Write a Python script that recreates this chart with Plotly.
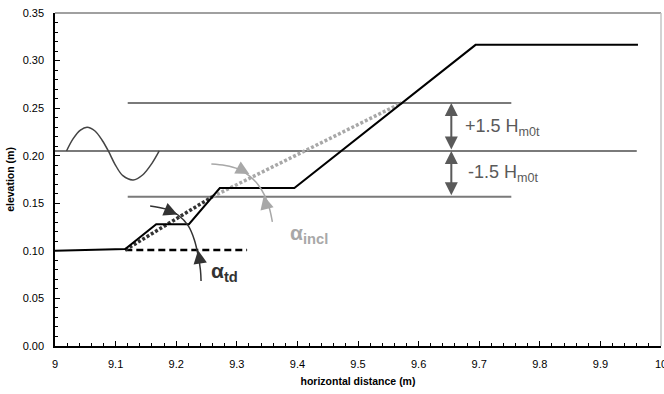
import plotly.graph_objects as go

# ---- data ----
profile_x = [9.0, 9.116, 9.167, 9.221, 9.272, 9.395, 9.694, 9.962]
profile_y = [0.100, 0.102, 0.128, 0.128, 0.166, 0.166, 0.3165, 0.3165]

wave_x = [9.019, 9.030, 9.042, 9.053, 9.066, 9.078, 9.088, 9.099, 9.112, 9.129, 9.145, 9.160, 9.172]
wave_y = [0.205, 0.218, 0.227, 0.230, 0.226, 0.216, 0.205, 0.191, 0.179, 0.1745, 0.180, 0.192, 0.205]

swl = 0.205
swl_x = [9.0, 9.96]
upper_level = 0.2555
lower_level = 0.157
level_x = [9.120, 9.753]

toe_x, toe_y = 9.116, 0.101
ref_x = [9.116, 9.317]          # horizontal reference (dashed)
td_x = [9.116, 9.260]           # toe -> SWL-1.5Hm0t
td_y = [0.101, 0.157]
incl_x = [9.260, 9.572]         # SWL-1.5Hm0t -> SWL+1.5Hm0t
incl_y = [0.157, 0.2555]
arrow_x = 9.654

arc_td_x = [9.157, 9.182, 9.203, 9.220, 9.230, 9.236, 9.240, 9.241]
arc_td_y = [0.1472, 0.1441, 0.1377, 0.1262, 0.1115, 0.0957, 0.0799, 0.0683]
arc_incl_x = [9.258, 9.281, 9.3025, 9.3207, 9.3355, 9.3455, 9.3537, 9.3587]
arc_incl_y = [0.1914, 0.1898, 0.1861, 0.1788, 0.1693, 0.1588, 0.1451, 0.1304]

x_ticks = [9.0, 9.1, 9.2, 9.3, 9.4, 9.5, 9.6, 9.7, 9.8, 9.9, 10.0]
x_tick_text = ["9", "9.1", "9.2", "9.3", "9.4", "9.5", "9.6", "9.7", "9.8", "9.9", "10"]
y_ticks = [0.00, 0.05, 0.10, 0.15, 0.20, 0.25, 0.30, 0.35]

DARK = "#333333"
MID = "#5a5a5a"
LEVEL = "#7a7a7a"
LIGHT = "#a8a8a8"
FONT = "Liberation Sans Narrow, Arial Narrow, Liberation Sans, Arial, sans-serif"

fig = go.Figure()

def line(x, y, color, width, dash="solid", shape="linear"):
    fig.add_trace(go.Scatter(x=x, y=y, mode="lines",
                             line=dict(color=color, width=width, dash=dash, shape=shape),
                             hoverinfo="skip", showlegend=False))

# water levels
line(swl_x, [swl, swl], LEVEL, 2)
line(level_x, [upper_level, upper_level], LEVEL, 2)
line(level_x, [lower_level, lower_level], LEVEL, 2)
# wave
line(wave_x, wave_y, "#444444", 1.5, shape="spline")
# slope lines
line(ref_x, [toe_y, toe_y], "black", 2.5, dash="7px,4px")
line(incl_x, incl_y, LIGHT, 3.5, dash="3px,2px")
line(td_x, td_y, DARK, 3.5, dash="3px,2px")
# profile
line(profile_x, profile_y, "black", 2)
# arcs
line(arc_td_x, arc_td_y, DARK, 1.5, shape="spline")
line(arc_incl_x, arc_incl_y, LIGHT, 1.5, shape="spline")

ann = []
# arc arrowheads (tips with short pixel tail along the arc tangent)
for (tx, ty, axp, ayp, col) in [
    (arc_td_x[2] - 0.001, arc_td_y[2] + 0.0005, -12, -5, DARK),
    (arc_td_x[5], arc_td_y[5] + 0.005, 2, 12, DARK),
    (arc_incl_x[3], arc_incl_y[3] + 0.002, -11, -6, LIGHT),
    (arc_incl_x[5] - 0.001, arc_incl_y[5] - 0.001, 3, 12, LIGHT),
]:
    ann.append(dict(x=tx, y=ty, xref="x", yref="y", ax=axp, ay=ayp, text="",
                    showarrow=True, arrowhead=2, arrowsize=1.8, arrowwidth=1.5,
                    arrowcolor=col))
# double arrows
for (y0, y1) in [(upper_level, swl), (swl, lower_level)]:
    ann.append(dict(x=arrow_x, y=y0, ax=arrow_x, ay=y1, xref="x", yref="y",
                    axref="x", ayref="y", text="", showarrow=True,
                    arrowhead=2, startarrowhead=2, arrowside="end+start",
                    arrowsize=1.3, startarrowsize=1.3, arrowwidth=2, arrowcolor=MID))
# labels
ann.append(dict(x=9.673, y=0.2295, xref="x", yref="y", xanchor="left", yanchor="middle",
                text="+1.5 H<sub>m0t</sub>", showarrow=False,
                font=dict(family="Liberation Sans, Arial, sans-serif", size=18, color=MID)))
ann.append(dict(x=9.678, y=0.181, xref="x", yref="y", xanchor="left", yanchor="middle",
                text="-1.5 H<sub>m0t</sub>", showarrow=False,
                font=dict(family="Liberation Sans, Arial, sans-serif", size=18, color=MID)))
ann.append(dict(x=9.385, y=0.118, xref="x", yref="y", xanchor="left", yanchor="middle",
                text="<b>α<sub>incl</sub></b>", showarrow=False,
                font=dict(family="Liberation Sans, Arial, sans-serif", size=21, color=LIGHT)))
ann.append(dict(x=9.254, y=0.078, xref="x", yref="y", xanchor="left", yanchor="middle",
                text="<b>α<sub>td</sub></b>", showarrow=False,
                font=dict(family="Liberation Sans, Arial, sans-serif", size=21, color=DARK)))

shapes = [
    dict(type="line", xref="paper", yref="paper", x0=0, x1=1, y0=1, y1=1,
         line=dict(color="#808080", width=1.5)),
    dict(type="line", xref="paper", yref="paper", x0=1, x1=1, y0=0, y1=1,
         line=dict(color="#c4c4c4", width=1.5)),
]

fig.update_layout(
    width=664, height=394,
    margin=dict(l=55, r=3, t=13, b=48),
    paper_bgcolor="white", plot_bgcolor="white",
    font=dict(family=FONT, size=11, color="black"),
    annotations=ann, shapes=shapes,
    xaxis=dict(range=[9.0, 10.0], tickvals=x_ticks, ticktext=x_tick_text,
               showgrid=False, zeroline=False, showline=True, linecolor="black",
               linewidth=1.5, ticks="inside", ticklen=5, tickcolor="black",
               minor=dict(dtick=0.02, ticks="inside", ticklen=3, tickcolor="black", showgrid=False),
               tickfont=dict(size=11), ticklabelstandoff=7, ticklabeloverflow="allow",
               automargin=False,
               title=dict(text="<b>horizontal distance (m)</b>", font=dict(size=10.5), standoff=9)),
    yaxis=dict(range=[0.0, 0.35], tickvals=y_ticks, tickformat=".2f",
               showgrid=False, zeroline=False, showline=True, linecolor="black",
               linewidth=1.5, ticks="inside", ticklen=5, tickcolor="black",
               minor=dict(dtick=0.01, ticks="inside", ticklen=3, tickcolor="black", showgrid=False),
               tickfont=dict(size=11), ticklabelstandoff=7, automargin=False,
               title=dict(text="<b>elevation (m)</b>", font=dict(size=10.5), standoff=6)),
)

fig.write_html("out.html", config={"displayModeBar": False},
               post_script="document.body.style.margin='0';document.body.style.overflow='hidden';")
